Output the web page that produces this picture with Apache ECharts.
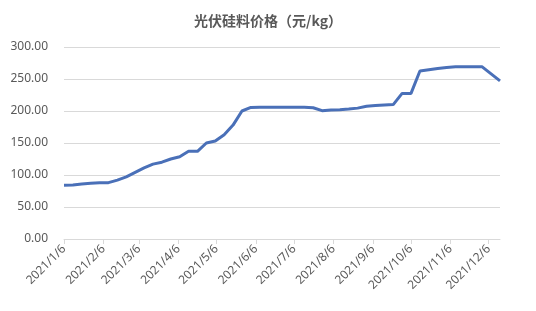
<!DOCTYPE html>
<html>
<head>
<meta charset="utf-8">
<script src="https://cdn.jsdelivr.net/npm/echarts@6/dist/echarts.min.js"></script>
<style>html,body{margin:0;padding:0;background:#fff;}#c{width:536px;height:311px;}</style>
</head>
<body>
<div id="c"></div>
<script>
// Weekly observations (Wednesdays) starting 2021/1/6
const startDate = '2021/1/6';
const endDate = '2021/12/15';
const prices = [
  84, 84.5, 86, 87, 88, 88, 92, 97, 104, 111,
  117, 120, 125, 128.5, 137, 137, 150, 153, 163, 178,
  200, 205.5, 206, 206, 206, 206, 206, 206, 205, 200.5,
  201.5, 202, 203, 204.5, 207.5, 208.5, 209.5, 210, 227.5, 227.5,
  262.5, 264.5, 266.5, 268, 269, 269, 269, 269, 258, 247
];
const yTicks = [0, 50, 100, 150, 200, 250, 300];
const titleText = '光伏硅料价格（元/kg）';

function fmt(d){ return d.getFullYear() + '/' + (d.getMonth()+1) + '/' + d.getDate(); }
const s = new Date(startDate), e = new Date(endDate);
const days = [];
for (let d = new Date(s); d <= e; d.setDate(d.getDate()+1)) days.push(fmt(d));
const weekDates = prices.map((_, i) => { const d = new Date(s); d.setDate(d.getDate() + 7*i); return fmt(d); });
const seriesData = days.map(() => null);
weekDates.forEach((w, i) => { const idx = days.indexOf(w); if (idx >= 0) seriesData[idx] = prices[i]; });
const isSixth = (i, v) => /\/6$/.test(v);

const chart = echarts.init(document.getElementById('c'));
chart.setOption({
  animation: false,
  title: {
    text: titleText, left: 'center', top: 9,
    textStyle: { fontFamily: 'Noto Sans CJK SC', fontSize: 14, fontWeight: 'bold', color: '#595959' }
  },
  grid: { left: 64, right: 36, top: 47, bottom: 72 },
  xAxis: {
    type: 'category', data: days, boundaryGap: false,
    axisLine: { lineStyle: { color: '#d9d9d9', width: 1 } },
    axisTick: { interval: isSixth, length: 5, lineStyle: { color: '#d9d9d9' } },
    axisLabel: { interval: isSixth, rotate: 45, color: '#595959', fontSize: 12, fontFamily: 'Noto Sans', margin: 8 },
    splitLine: { show: false }
  },
  yAxis: {
    type: 'value', min: yTicks[0], max: yTicks[yTicks.length-1], interval: 50,
    axisLine: { show: false }, axisTick: { show: false },
    axisLabel: { color: '#595959', fontSize: 12, fontFamily: 'Noto Sans', margin: 16, formatter: v => v.toFixed(2) },
    splitLine: { lineStyle: { color: '#d9d9d9', width: 1 } }
  },
  series: [{
    type: 'line', data: seriesData, connectNulls: true, showSymbol: false, symbol: 'none',
    lineStyle: { color: '#4a70b8', width: 3 }, itemStyle: { color: '#4a70b8' }
  }]
});
</script>
</body>
</html>
